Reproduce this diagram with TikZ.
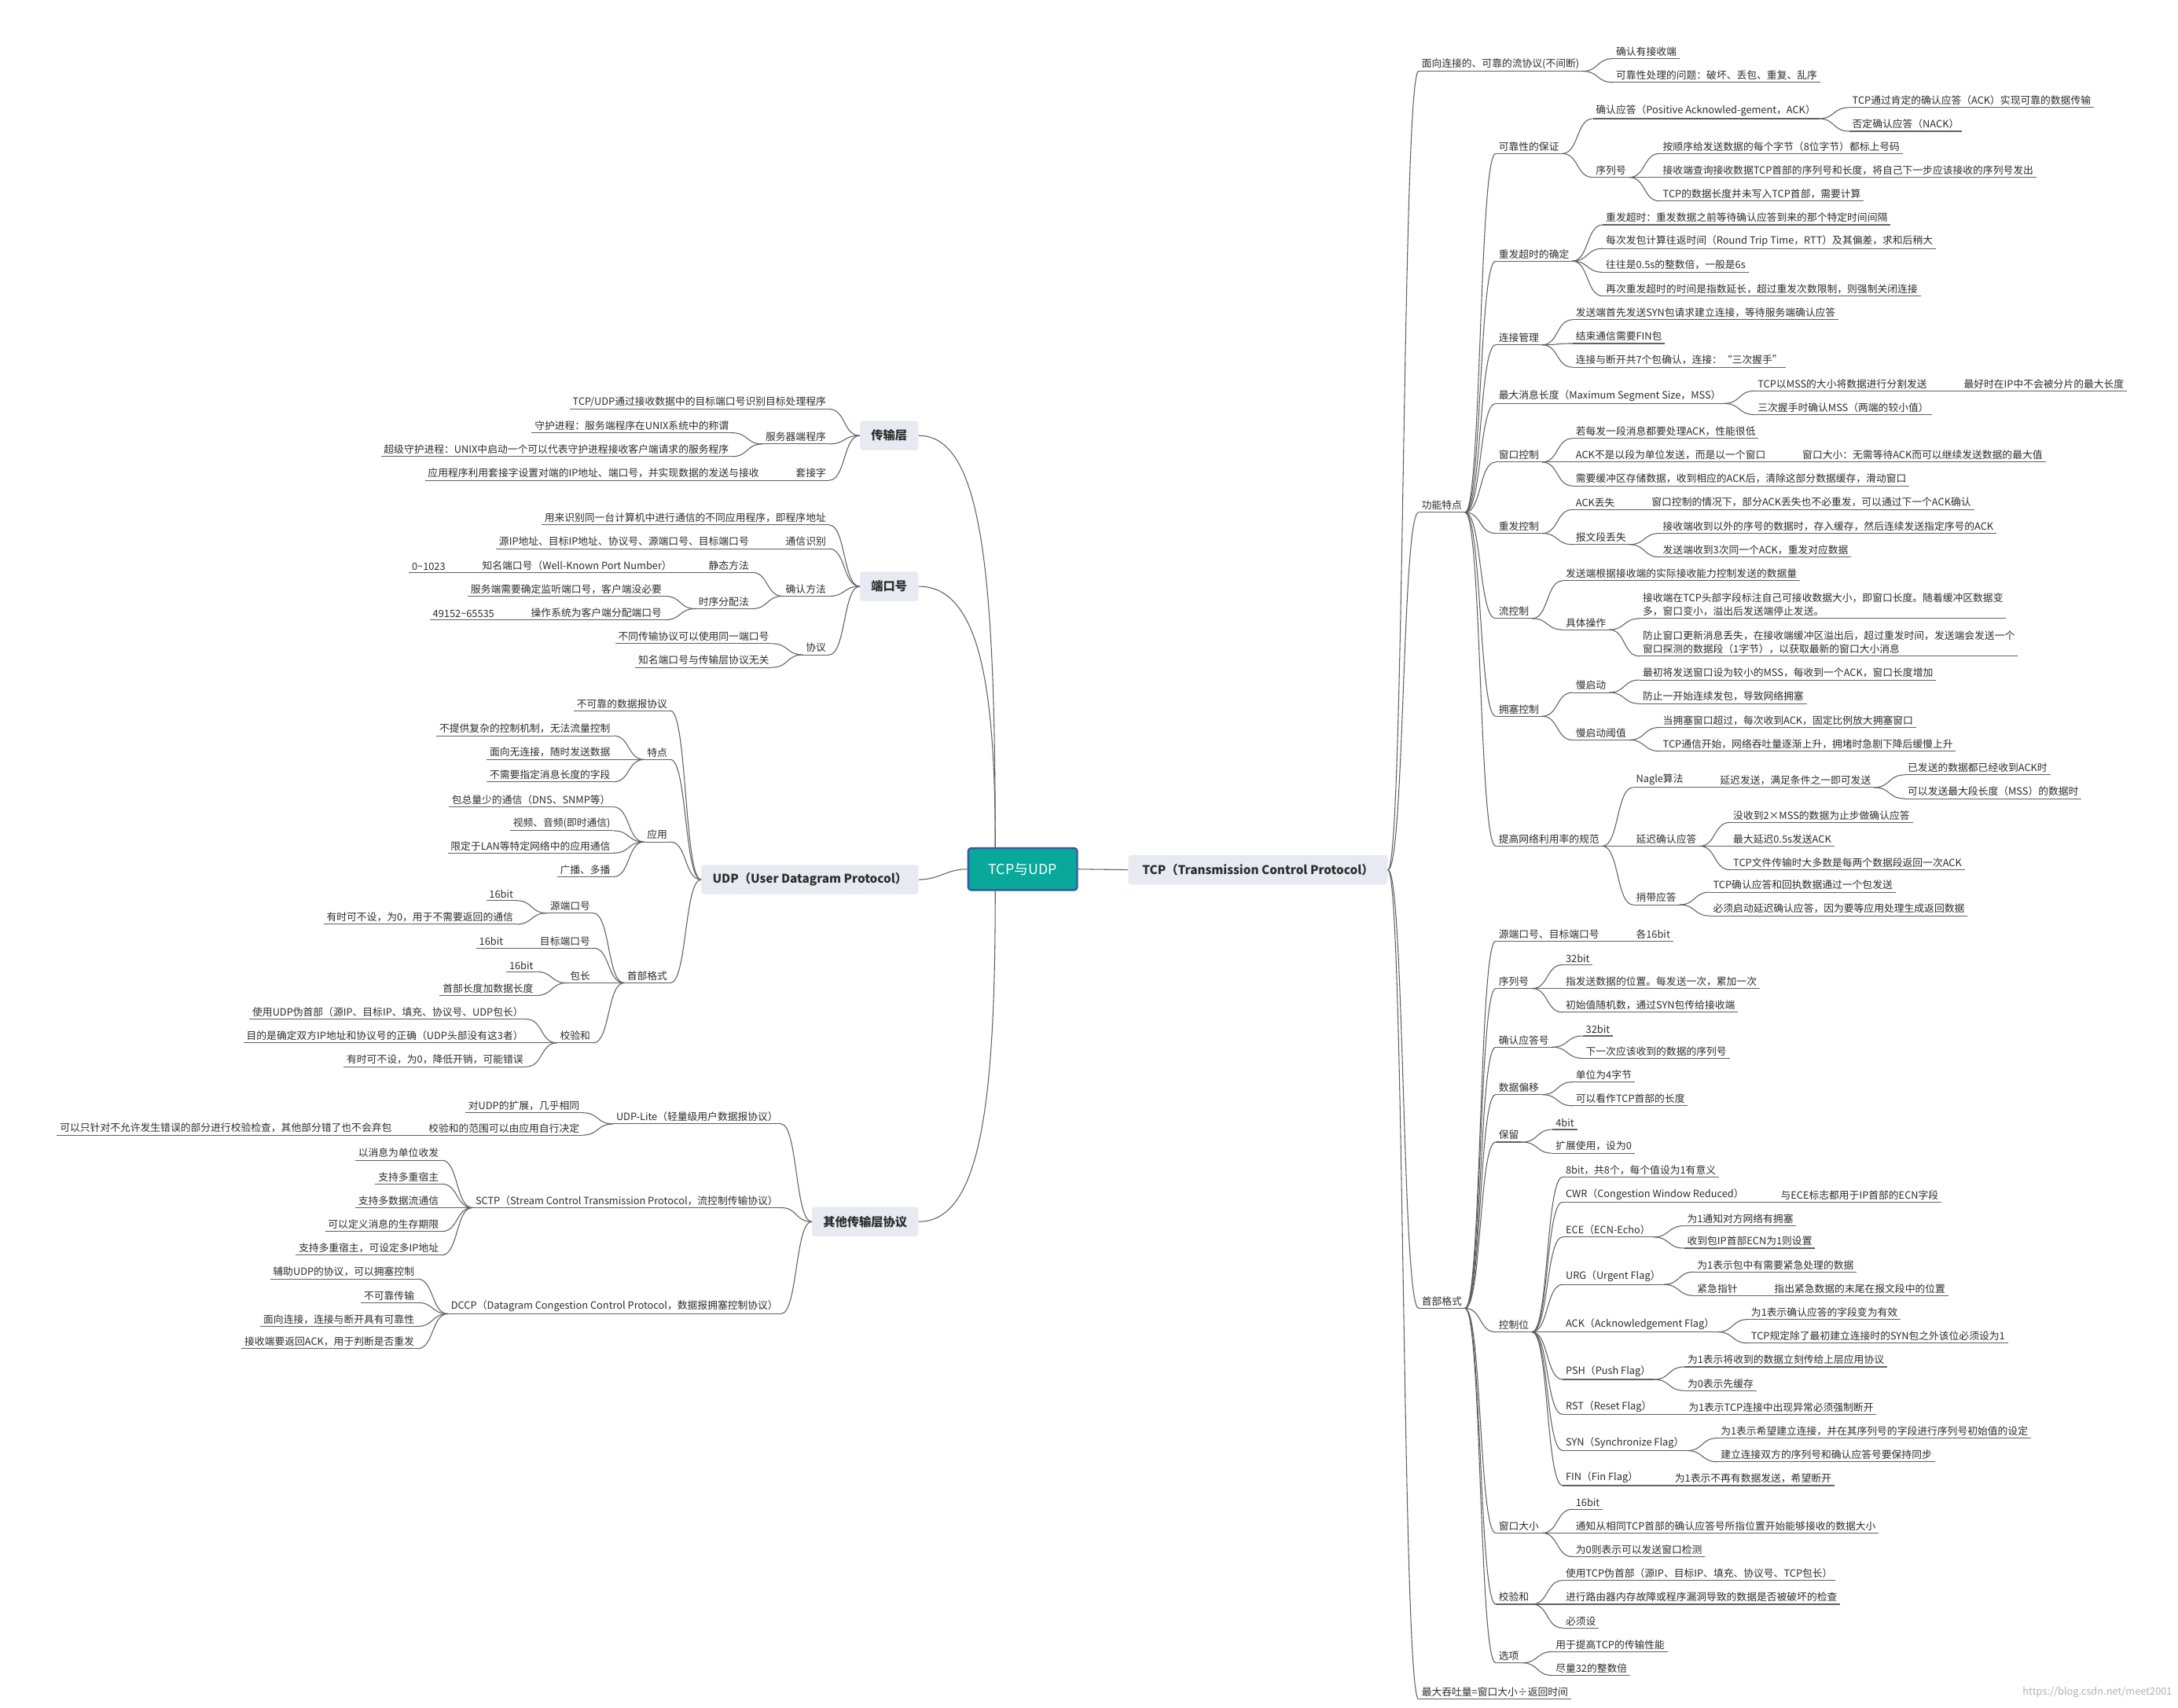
\documentclass[tikz,border=0pt]{standalone}
\usepackage{fontspec}
\setmainfont{Noto Sans CJK SC}
\definecolor{teal1}{RGB}{8,168,155}
\definecolor{bord}{RGB}{52,90,160}
\definecolor{gbox}{RGB}{232,234,241}
\definecolor{txt}{RGB}{45,45,45}
\tikzset{
 lbl/.style={font=\fontsize{7.2}{9.5}\selectfont, text=txt, inner xsep=2pt, inner ysep=1.5pt, align=left},
 ln/.style={draw=black!62, line width=0.6pt},
 box/.style={fill=gbox, rounded corners=2pt, inner xsep=8pt, minimum height=21pt, font=\bfseries\fontsize{8.6}{10}\selectfont, text=txt},
 pt/.style={inner sep=0pt, outer sep=0pt, minimum size=0pt}
}
\newcommand\RT[4]{\path (#2.south east) ++(22,0) coordinate (tmp);
 \node[lbl,anchor=south west] (#1) at (tmp |- 0,#3) {#4};
 \draw[ln] (#1.south west) -- (#1.south east);
 \draw[ln] (#2.south east) .. controls +(12,0) and +(-12,0) .. (#1.south west);}
\newcommand\LT[4]{\path (#2.south west) ++(-22,0) coordinate (tmp);
 \node[lbl,anchor=south east] (#1) at (tmp |- 0,#3) {#4};
 \draw[ln] (#1.south west) -- (#1.south east);
 \draw[ln] (#2.south west) .. controls +(-12,0) and +(12,0) .. (#1.south east);}
\begin{document}
\begin{tikzpicture}[x=1pt,y=-1pt]
\fill[white] (0,0) rectangle (1560,1223);
\useasboundingbox (0,0) rectangle (1560,1223);
% centre
\node[fill=teal1, draw=bord, line width=1.3pt, rounded corners=2pt, minimum width=78pt, minimum height=30pt, text=white, font=\fontsize{10}{12}\selectfont] (cb) at (732.5,622.5) {TCP与UDP};
\node[box, anchor=west, inner xsep=10pt] (tcp) at (808,623) {TCP（Transmission Control Protocol）};
\node[box, anchor=east] (tl) at (658,312) {传输层};
\node[box, anchor=east] (pl) at (658,420) {端口号};
\node[box, anchor=east] (ud) at (658,630) {UDP（User Datagram Protocol）};
\node[box, anchor=east] (ol) at (658,875) {其他传输层协议};
\draw[ln] (cb.east) -- (tcp.west);
\draw[ln] ([xshift=20]cb.north west) .. controls +(0,-200) and +(45,0) .. (tl.east);
\draw[ln] ([xshift=20]cb.north west) .. controls +(0,-110) and +(45,0) .. (pl.east);
\draw[ln] (cb.west) .. controls +(-15,0) and +(15,0) .. (ud.east);
\draw[ln] ([xshift=20]cb.south west) .. controls +(0,150) and +(45,0) .. (ol.east);
\node[pt] (tcpE) at (tcp.east) {};
\node[pt] (tlW) at (tl.west) {};
\node[pt] (plW) at (pl.west) {};
\node[pt] (udW) at (ud.west) {};
\node[pt] (olW) at (ol.west) {};
% ===== TCP =====
\RT{a}{tcpE}{51}{面向连接的、可靠的流协议(不间断)}
\RT{a1}{a}{42}{确认有接收端}
\RT{a2}{a}{59}{可靠性处理的问题：破坏、丢包、重复、乱序}
\RT{b}{tcpE}{367}{功能特点}
\RT{b1}{b}{110}{可靠性的保证}
\RT{b11}{b1}{85}{确认应答（Positive Acknowled-gement，ACK）}
\RT{b111}{b11}{77}{TCP通过肯定的确认应答（ACK）实现可靠的数据传输}
\RT{b112}{b11}{94}{否定确认应答（NACK）}
\RT{b12}{b1}{127}{序列号}
\RT{b121}{b12}{110}{按顺序给发送数据的每个字节（8位字节）都标上号码}
\RT{b122}{b12}{127}{接收端查询接收数据TCP首部的序列号和长度，将自己下一步应该接收的序列号发出}
\RT{b123}{b12}{144}{TCP的数据长度并未写入TCP首部，需要计算}
\RT{b2}{b}{187}{重发超时的确定}
\RT{b21}{b2}{161}{重发超时：重发数据之前等待确认应答到来的那个特定时间间隔}
\RT{b22}{b2}{178}{每次发包计算往返时间（Round Trip Time，RTT）及其偏差，求和后稍大}
\RT{b23}{b2}{195}{往往是0.5s的整数倍，一般是6s}
\RT{b24}{b2}{212}{再次重发超时的时间是指数延长，超过重发次数限制，则强制关闭连接}
\RT{b3}{b}{247}{连接管理}
\RT{b31}{b3}{229}{发送端首先发送SYN包请求建立连接，等待服务端确认应答}
\RT{b32}{b3}{246}{结束通信需要FIN包}
\RT{b33}{b3}{263}{连接与断开共7个包确认，连接：“三次握手”}
\RT{b4}{b}{289}{最大消息长度（Maximum Segment Size，MSS）}
\RT{b41}{b4}{280}{TCP以MSS的大小将数据进行分割发送}
\RT{b411}{b41}{280}{最好时在IP中不会被分片的最大长度}
\RT{b42}{b4}{297}{三次握手时确认MSS（两端的较小值）}
\RT{b5}{b}{331}{窗口控制}
\RT{b51}{b5}{314}{若每发一段消息都要处理ACK，性能很低}
\RT{b52}{b5}{331}{ACK不是以段为单位发送，而是以一个窗口}
\RT{b521}{b52}{331}{窗口大小：无需等待ACK而可以继续发送数据的最大值}
\RT{b53}{b5}{348}{需要缓冲区存储数据，收到相应的ACK后，清除这部分数据缓存，滑动窗口}
\RT{b6}{b}{382}{重发控制}
\RT{b61}{b6}{365}{ACK丢失}
\RT{b611}{b61}{365}{窗口控制的情况下，部分ACK丢失也不必重发，可以通过下一个ACK确认}
\RT{b62}{b6}{390}{报文段丢失}
\RT{b621}{b62}{382}{接收端收到以外的序号的数据时，存入缓存，然后连续发送指定序号的ACK}
\RT{b622}{b62}{399}{发送端收到3次同一个ACK，重发对应数据}
\RT{b7}{b}{443}{流控制}
\RT{b71}{b7}{416}{发送端根据接收端的实际接收能力控制发送的数据量}
\RT{b72}{b7}{451}{具体操作}
\RT{b721}{b72}{443}{接收端在TCP头部字段标注自己可接收数据大小，即窗口长度。随着缓冲区数据变\\多，窗口变小，溢出后发送端停止发送。}
\RT{b722}{b72}{470}{防止窗口更新消息丢失，在接收端缓冲区溢出后，超过重发时间，发送端会发送一个\\窗口探测的数据段（1字节），以获取最新的窗口大小消息}
\RT{b8}{b}{513}{拥塞控制}
\RT{b81}{b8}{496}{慢启动}
\RT{b811}{b81}{487}{最初将发送窗口设为较小的MSS，每收到一个ACK，窗口长度增加}
\RT{b812}{b81}{504}{防止一开始连续发包，导致网络拥塞}
\RT{b82}{b8}{530}{慢启动阈值}
\RT{b821}{b82}{521}{当拥塞窗口超过，每次收到ACK，固定比例放大拥塞窗口}
\RT{b822}{b82}{538}{TCP通信开始，网络吞吐量逐渐上升，拥堵时急剧下降后缓慢上升}
\RT{b9}{b}{606}{提高网络利用率的规范}
\RT{b91}{b9}{564}{Nagle算法}
\RT{b911}{b91}{564}{延迟发送，满足条件之一即可发送}
\RT{b9111}{b911}{555}{已发送的数据都已经收到ACK时}
\RT{b9112}{b911}{572}{可以发送最大段长度（MSS）的数据时}
\RT{b92}{b9}{606}{延迟确认应答}
\RT{b921}{b92}{589}{没收到2×MSS的数据为止步做确认应答}
\RT{b922}{b92}{606}{最大延迟0.5s发送ACK}
\RT{b923}{b92}{623}{TCP文件传输时大多数是每两个数据段返回一次ACK}
\RT{b93}{b9}{648}{捎带应答}
\RT{b931}{b93}{639}{TCP确认应答和回执数据通过一个包发送}
\RT{b932}{b93}{656}{必须启动延迟确认应答，因为要等应用处理生成返回数据}
\RT{c}{tcpE}{937}{首部格式}
\RT{c1}{c}{674}{源端口号、目标端口号}
\RT{c11}{c1}{674}{各16bit}
\RT{c2}{c}{708}{序列号}
\RT{c21}{c2}{691}{32bit}
\RT{c22}{c2}{708}{指发送数据的位置。每发送一次，累加一次}
\RT{c23}{c2}{725}{初始值随机数，通过SYN包传给接收端}
\RT{c3}{c}{750}{确认应答号}
\RT{c31}{c3}{742}{32bit}
\RT{c32}{c3}{758}{下一次应该收到的数据的序列号}
\RT{c4}{c}{784}{数据偏移}
\RT{c41}{c4}{775}{单位为4字节}
\RT{c42}{c4}{792}{可以看作TCP首部的长度}
\RT{c5}{c}{818}{保留}
\RT{c51}{c5}{809}{4bit}
\RT{c52}{c5}{826}{扩展使用，设为0}
\RT{c6}{c}{954}{控制位}
\RT{c60}{c6}{843}{8bit，共8个，每个值设为1有意义}
\RT{c61}{c6}{861}{CWR（Congestion Window Reduced）}
\RT{c611}{c61}{861}{与ECE标志都用于IP首部的ECN字段}
\RT{c62}{c6}{886}{ECE（ECN-Echo）}
\RT{c621}{c62}{878}{为1通知对方网络有拥塞}
\RT{c622}{c62}{894}{收到包IP首部ECN为1则设置}
\RT{c63}{c6}{920}{URG（Urgent Flag）}
\RT{c631}{c63}{911}{为1表示包中有需要紧急处理的数据}
\RT{c632}{c63}{928}{紧急指针}
\RT{c6321}{c632}{928}{指出紧急数据的末尾在报文段中的位置}
\RT{c64}{c6}{954}{ACK（Acknowledgement Flag）}
\RT{c641}{c64}{945}{为1表示确认应答的字段变为有效}
\RT{c642}{c64}{962}{TCP规定除了最初建立连接时的SYN包之外该位必须设为1}
\RT{c65}{c6}{988}{PSH（Push Flag）}
\RT{c651}{c65}{979}{为1表示将收到的数据立刻传给上层应用协议}
\RT{c652}{c65}{996}{为0表示先缓存}
\RT{c66}{c6}{1013}{RST（Reset Flag）}
\RT{c661}{c66}{1013}{为1表示TCP连接中出现异常必须强制断开}
\RT{c67}{c6}{1039}{SYN（Synchronize Flag）}
\RT{c671}{c67}{1030}{为1表示希望建立连接，并在其序列号的字段进行序列号初始值的设定}
\RT{c672}{c67}{1047}{建立连接双方的序列号和确认应答号要保持同步}
\RT{c68}{c6}{1064}{FIN（Fin Flag）}
\RT{c681}{c68}{1064}{为1表示不再有数据发送，希望断开}
\RT{c7}{c}{1098}{窗口大小}
\RT{c71}{c7}{1081}{16bit}
\RT{c72}{c7}{1098}{通知从相同TCP首部的确认应答号所指位置开始能够接收的数据大小}
\RT{c73}{c7}{1115}{为0则表示可以发送窗口检测}
\RT{c8}{c}{1149}{校验和}
\RT{c81}{c8}{1132}{使用TCP伪首部（源IP、目标IP、填充、协议号、TCP包长）}
\RT{c82}{c8}{1149}{进行路由器内存故障或程序漏洞导致的数据是否被破坏的检查}
\RT{c83}{c8}{1166}{必须设}
\RT{c9}{c}{1191}{选项}
\RT{c91}{c9}{1183}{用于提高TCP的传输性能}
\RT{c92}{c9}{1200}{尽量32的整数倍}
\RT{d}{tcpE}{1217}{最大吞吐量=窗口大小÷返回时间}
% ===== 传输层 =====
\LT{t1}{tlW}{293}{TCP/UDP通过接收数据中的目标端口号识别目标处理程序}
\LT{t2}{tlW}{318}{服务器端程序}
\LT{t21}{t2}{310}{守护进程：服务端程序在UNIX系统中的称谓}
\LT{t22}{t2}{327}{超级守护进程：UNIX中启动一个可以代表守护进程接收客户端请求的服务程序}
\LT{t3}{tlW}{344}{套接字}
\LT{t31}{t3}{344}{应用程序利用套接字设置对端的IP地址、端口号，并实现数据的发送与接收}
% ===== 端口号 =====
\LT{p1}{plW}{376}{用来识别同一台计算机中进行通信的不同应用程序，即程序地址}
\LT{p2}{plW}{393}{通信识别}
\LT{p21}{p2}{393}{源IP地址、目标IP地址、协议号、源端口号、目标端口号}
\LT{p3}{plW}{427}{确认方法}
\LT{p31}{p3}{410}{静态方法}
\LT{p311}{p31}{410}{知名端口号（Well-Known Port Number）}
\LT{p3111}{p311}{410}{0\textasciitilde 1023}
\LT{p32}{p3}{436}{时序分配法}
\LT{p321}{p32}{427}{服务端需要确定监听端口号，客户端没必要}
\LT{p322}{p32}{444}{操作系统为客户端分配端口号}
\LT{p3221}{p322}{444}{49152\textasciitilde 65535}
\LT{p4}{plW}{469}{协议}
\LT{p41}{p4}{461}{不同传输协议可以使用同一端口号}
\LT{p42}{p4}{478}{知名端口号与传输层协议无关}
% ===== UDP =====
\LT{u0}{udW}{509}{不可靠的数据报协议}
\LT{u1}{udW}{544}{特点}
\LT{u11}{u1}{527}{不提供复杂的控制机制，无法流量控制}
\LT{u12}{u1}{544}{面向无连接，随时发送数据}
\LT{u13}{u1}{560}{不需要指定消息长度的字段}
\LT{u2}{udW}{603}{应用}
\LT{u21}{u2}{578}{包总量少的通信（DNS、SNMP等）}
\LT{u22}{u2}{595}{视频、音频(即时通信)}
\LT{u23}{u2}{611}{限定于LAN等特定网络中的应用通信}
\LT{u24}{u2}{628}{广播、多播}
\LT{u3}{udW}{704}{首部格式}
\LT{u31}{u3}{654}{源端口号}
\LT{u311}{u31}{645}{16bit}
\LT{u312}{u31}{662}{有时可不设，为0，用于不需要返回的通信}
\LT{u32}{u3}{679}{目标端口号}
\LT{u321}{u32}{679}{16bit}
\LT{u33}{u3}{704}{包长}
\LT{u331}{u33}{696}{16bit}
\LT{u332}{u33}{713}{首部长度加数据长度}
\LT{u34}{u3}{747}{校验和}
\LT{u341}{u34}{730}{使用UDP伪首部（源IP、目标IP、填充、协议号、UDP包长）}
\LT{u342}{u34}{747}{目的是确定双方IP地址和协议号的正确（UDP头部没有这3者）}
\LT{u343}{u34}{764}{有时可不设，为0，降低开销，可能错误}
% ===== 其他 =====
\LT{o1}{olW}{805}{UDP-Lite（轻量级用户数据报协议）}
\LT{o11}{o1}{797}{对UDP的扩展，几乎相同}
\LT{o12}{o1}{813}{校验和的范围可以由应用自行决定}
\LT{o121}{o12}{813}{可以只针对不允许发生错误的部分进行校验检查，其他部分错了也不会弃包}
\LT{o2}{olW}{865}{SCTP（Stream Control Transmission Protocol，流控制传输协议）}
\LT{o21}{o2}{831}{以消息为单位收发}
\LT{o22}{o2}{848}{支持多重宿主}
\LT{o23}{o2}{865}{支持多数据流通信}
\LT{o24}{o2}{882}{可以定义消息的生存期限}
\LT{o25}{o2}{899}{支持多重宿主，可设定多IP地址}
\LT{o3}{olW}{941}{DCCP（Datagram Congestion Control Protocol，数据报拥塞控制协议）}
\LT{o31}{o3}{916}{辅助UDP的协议，可以拥塞控制}
\LT{o32}{o3}{933}{不可靠传输}
\LT{o33}{o3}{950}{面向连接，连接与断开具有可靠性}
\LT{o34}{o3}{966}{接收端要返回ACK，用于判断是否重发}
\node[lbl, text=black!30, anchor=east] (wm) at (1558,1212) {https://blog.csdn.net/meet2001};
\end{tikzpicture}
\end{document}
